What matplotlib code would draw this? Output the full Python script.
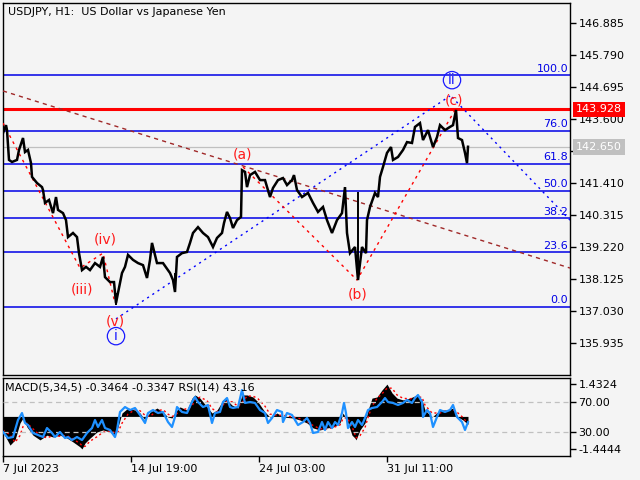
import matplotlib
matplotlib.use('Agg')
import matplotlib.pyplot as plt
import matplotlib.transforms as mtransforms

# --- price series (hourly bars, bar index from 7 Jul 2023 11:00) ---
price_bars = [0, 3, 4, 6, 9, 14, 16, 20, 22, 25, 28, 29, 34, 39, 40, 42, 46, 50, 53, 55,
              60, 63, 65, 70, 74, 76, 79, 83, 87, 92, 97, 100, 102, 107, 111, 113, 115, 119, 122, 125,
              130, 135, 140, 144, 147, 149, 154, 160, 167, 170, 172, 174, 179, 184, 187, 190, 195, 200, 205, 210,
              214, 219, 221, 224, 227, 230, 234, 238, 239, 242, 244, 247, 252, 257, 262, 267, 270, 275, 280, 284,
              289, 291, 294, 299, 305, 310, 315, 320, 324, 329, 334, 339, 342, 344, 347, 352, 355, 359, 363, 364,
              367, 372, 375, 377, 380, 384, 388, 390, 395, 400, 404, 409, 412, 417, 420, 425, 430, 434, 437, 442,
              447, 450, 453, 455, 459, 462, 464, 465]
price_close = [143.12, 143.39, 143.22, 142.20, 142.13, 142.20, 142.54, 142.95, 142.47, 142.54,
               142.09, 141.62, 141.41, 141.27, 141.17, 140.73, 140.83, 140.38, 140.93, 140.49,
               140.38, 140.14, 139.56, 139.70, 139.56, 139.01, 138.43, 138.54, 138.43, 138.67,
               138.54, 138.88, 138.19, 138.02, 138.02, 137.30, 137.65, 138.33, 138.54, 138.95,
               138.78, 138.67, 138.60, 138.16, 138.78, 139.36, 138.67, 138.67, 138.33, 138.09,
               137.68, 138.88, 139.01, 139.05, 139.36, 139.70, 139.90, 139.70, 139.56, 139.22,
               139.53, 139.70, 140.04, 140.42, 140.21, 139.87, 140.14, 140.25, 141.85, 141.79,
               141.27, 141.68, 141.79, 141.51, 141.51, 140.93, 141.24, 141.51, 141.58, 141.34,
               141.51, 141.68, 141.17, 140.93, 141.07, 140.73, 140.42, 140.59, 140.14, 139.70,
               140.14, 140.38, 141.27, 139.70, 139.01, 139.22, 138.09, 139.22, 139.01, 140.14,
               140.59, 141.07, 140.93, 141.62, 141.96, 142.44, 142.64, 142.20, 142.30, 142.54,
               142.81, 142.78, 143.33, 143.46, 142.88, 143.22, 142.64, 142.98, 143.39, 143.22,
               143.33, 143.39, 143.91, 142.95, 142.88, 142.44, 142.09, 142.65]
wick_bars = [113, 172, 355]
wick_high = [137.65, 138.33, 141.10]
wick_low = [137.24, 137.68, 138.09]

price_ticks = [146.885, 145.790, 144.695, 143.600, 142.505, 141.410,
               140.315, 139.220, 138.125, 137.030, 135.935]

# fibonacci grid
fib_low, fib_high = 137.17, 145.10
fib_levels = [0.0, 23.6, 38.2, 50.0, 61.8, 76.0, 100.0]
red_level = 143.928
last_price = 142.650

# elliott wave paths
wave1_bars = [0, 77, 100, 112]
wave1_price = [143.46, 138.50, 139.01, 137.30]
wave2_bars = [240, 354, 452]
wave2_price = [141.96, 138.09, 143.91]
blue_bars = [113, 447]
blue_price = [136.76, 144.39]
proj_bars = [449, 567]
proj_price = [144.35, 140.14]
trend_bars = [0, 567]
trend_price = [144.56, 138.50]

wave_labels = ['(iii)', '(iv)', '(v)', '(a)', '(b)', '(c)']
wave_label_bars = [79, 102, 112, 239, 355, 451]
wave_label_price = [137.75, 139.46, 136.67, 142.40, 137.58, 144.25]
circle_labels = ['i', 'ii']
circle_bars = [113, 449]
circle_price = [136.17, 144.93]

# --- indicator window ---
macd_bars = [0, 7, 12, 17, 20, 24, 30, 37, 44, 50, 57, 64, 70, 77, 79, 82, 87, 94, 100, 107,
             112, 115, 119, 125, 132, 137, 142, 147, 154, 160, 165, 169, 172, 177, 184, 189, 192, 197, 204, 209,
             214, 219, 222, 229, 235, 239, 244, 250, 255, 262, 267, 274, 280, 290, 297, 304, 310, 317, 324, 330,
             337, 340, 344, 349, 352, 353, 357, 362, 365, 369, 374, 379, 384, 389, 394, 400, 407, 414, 419, 422,
             429, 437, 444, 450, 455, 460, 465]
macd_main = [-0.69, -1.27, -1.04, -0.29, -0.07, -0.47, -0.83, -1.04, -0.83, -0.91,
             -0.83, -0.96, -1.13, -1.35, -1.44, -1.18, -0.96, -0.69, -0.60, -0.69,
             -0.83, -0.47, 0.15, 0.37, 0.28, 0.15, -0.16, 0.19, 0.37, 0.19,
             -0.03, -0.07, 0.19, 0.42, 0.28, 0.81, 0.95, 0.81, 0.42, 0.15,
             0.28, 0.64, 0.81, 0.50, 0.37, 0.95, 0.95, 0.86, 0.64, 0.19,
             -0.03, 0.15, -0.03, -0.07, -0.16, -0.29, -0.51, -0.60, -0.51, -0.47,
             -0.29, 0.15, -0.16, -0.83, -0.96, -1.04, -0.60, -0.29, 0.28, 0.81,
             0.86, 1.17, 1.43, 1.04, 0.81, 0.73, 0.81, 0.95, 0.73, 0.28,
             -0.03, 0.28, 0.28, 0.37, -0.03, -0.16, -0.35]
macd_signal = [-0.60, -0.80, -1.15, -0.85, -0.45, -0.30, -0.55, -0.85, -0.95, -0.85,
               -0.88, -0.85, -1.00, -1.20, -1.30, -1.33, -1.10, -0.90, -0.70, -0.65,
               -0.72, -0.70, -0.30, 0.10, 0.30, 0.25, 0.05, 0.00, 0.25, 0.30,
               0.10, 0.00, 0.05, 0.25, 0.35, 0.45, 0.75, 0.85, 0.70, 0.35,
               0.20, 0.40, 0.65, 0.65, 0.45, 0.60, 0.90, 0.90, 0.78, 0.45,
               0.10, 0.05, 0.05, -0.03, -0.10, -0.22, -0.40, -0.55, -0.55, -0.50,
               -0.38, -0.10, -0.05, -0.45, -0.80, -0.95, -0.85, -0.50, -0.05, 0.45,
               0.80, 1.00, 1.25, 1.25, 0.95, 0.80, 0.78, 0.85, 0.85, 0.50,
               0.15, 0.15, 0.25, 0.30, 0.15, -0.05, -0.33]
rsi_bars = [0, 5, 10, 15, 19, 22, 25, 30, 35, 40, 44, 49, 52, 57, 62, 65, 69, 74, 79, 84,
            89, 92, 95, 99, 102, 107, 112, 114, 117, 122, 127, 132, 137, 142, 145, 150, 155, 160, 165, 169,
            172, 174, 179, 184, 189, 192, 195, 200, 205, 209, 212, 217, 220, 224, 227, 230, 235, 239, 242, 247,
            252, 257, 262, 265, 269, 274, 279, 280, 284, 289, 292, 295, 300, 304, 307, 310, 315, 319, 322, 325,
            329, 332, 335, 339, 341, 343, 345, 349, 352, 355, 359, 362, 365, 369, 374, 379, 382, 385, 390, 395,
            400, 404, 409, 412, 415, 419, 420, 424, 427, 430, 434, 437, 442, 447, 450, 454, 459, 462, 465]
rsi_vals = [30.0, 22.0, 23.3, 46.0, 55.3, 42.0, 39.3, 28.7, 26.0, 23.3,
            35.3, 28.7, 23.3, 30.0, 22.0, 23.3, 19.3, 23.3, 19.3, 28.7,
            35.3, 46.0, 36.7, 46.0, 35.3, 32.7, 23.3, 32.7, 56.7, 63.3,
            59.3, 62.0, 52.7, 42.0, 55.3, 59.3, 55.3, 56.7, 43.3, 36.7,
            50.0, 63.3, 56.7, 55.3, 70.0, 76.7, 70.0, 63.3, 66.0, 42.0,
            55.3, 56.7, 70.0, 75.3, 63.3, 62.0, 63.3, 86.0, 68.7, 70.0,
            68.7, 59.3, 55.3, 42.0, 48.7, 59.3, 56.7, 43.3, 55.3, 52.7,
            46.0, 39.3, 43.3, 48.7, 42.0, 28.7, 30.0, 43.3, 32.7, 43.3,
            35.3, 43.3, 39.3, 55.3, 68.7, 55.3, 35.3, 43.3, 36.7, 46.0,
            39.3, 48.7, 59.3, 62.0, 63.3, 70.0, 75.3, 70.0, 68.7, 66.0,
            68.7, 72.7, 68.7, 75.3, 79.3, 70.0, 50.0, 59.3, 55.3, 36.7,
            50.0, 59.3, 56.7, 59.3, 66.0, 50.0, 43.3, 32.7, 43.16]
macd_ticks = [1.4324, -1.4444]
rsi_levels = [70, 30]

date_bars = [0, 128, 256, 384]
date_labels = ['7 Jul 2023', '14 Jul 19:00', '24 Jul 03:00', '31 Jul 11:00']

BG = '#f4f4f4'
FIB_BLUE = '#0000e6'

W, H = 640, 480
fig = plt.figure(figsize=(6.4, 4.8), dpi=100, facecolor=BG)


def px_rect(x0, y0, x1, y1):
    return [x0 / W, 1 - y1 / H, (x1 - x0) / W, (y1 - y0) / H]


ax = fig.add_axes(px_rect(3, 3, 570, 375))
ax.set_facecolor(BG)
ax.set_xlim(0, 567)
ax.set_ylim(134.84, 147.57)

# horizontal levels
fib_prices = [fib_low + lv / 100 * (fib_high - fib_low) for lv in fib_levels]
for lv, p in zip(fib_levels, fib_prices):
    ax.axhline(p, color=FIB_BLUE, lw=1.1, zorder=2)
    ax.text(565, p, '%.1f' % lv, ha='right', va='bottom', color=FIB_BLUE, fontsize=8,
            transform=mtransforms.offset_copy(ax.transData, fig=fig, y=1.2, units='points'))
ax.axhline(last_price, color='#c0c0c0', lw=0.9, zorder=2)
ax.axhline(red_level, color='#ff0000', lw=2.2, zorder=2)

# trend lines / waves
ax.plot(trend_bars, trend_price, color='#a02828', lw=1, ls=(0, (3, 3)), zorder=3)
ax.plot(blue_bars, blue_price, color='#0000ff', lw=1, ls=(0, (1.5, 3)), zorder=3)
ax.plot(proj_bars, proj_price, color='#0000ff', lw=1, ls=(0, (1.5, 3)), zorder=3)
ax.plot(wave1_bars, wave1_price, color='#ff0000', lw=1, ls=(0, (2, 3)), zorder=3)
ax.plot(wave2_bars, wave2_price, color='#ff0000', lw=1, ls=(0, (2, 3)), zorder=3)

# price
ax.vlines(wick_bars, wick_low, wick_high, color='black', lw=1.4, zorder=4)
ax.plot(price_bars, price_close, color='black', lw=1.8, zorder=4, solid_joinstyle='miter')

for t, b, p in zip(wave_labels, wave_label_bars, wave_label_price):
    ax.text(b, p, t, ha='center', va='center', color='#ff1a1a', fontsize=10, zorder=5)
for t, b, p in zip(circle_labels, circle_bars, circle_price):
    ax.text(b, p, t, ha='center', va='center', color='#1a1aff', fontsize=10, zorder=5,
            bbox=dict(boxstyle='circle,pad=0.12', fc='none', ec='#1a1aff', lw=0.9))

ax.yaxis.tick_right()
ax.set_yticks(price_ticks)
ax.set_yticklabels(['%.3f' % v for v in price_ticks])
ax.tick_params(axis='y', direction='out', length=4, width=1, labelsize=8, pad=2)
ax.set_xticks([])
for s in ax.spines.values():
    s.set_color('black')
    s.set_linewidth(1)

# price tags on the scale
tag_tr = mtransforms.offset_copy(mtransforms.blended_transform_factory(ax.transAxes, ax.transData),
                                 fig=fig, x=4.5, units='points')
ax.text(1.0, red_level, '%.3f' % red_level, transform=tag_tr, ha='left', va='center',
        color='white', fontsize=8, zorder=10, clip_on=False,
        bbox=dict(boxstyle='square,pad=0.25', fc='#ff0000', ec='none'))
ax.text(1.0, last_price, '%.3f' % last_price, transform=tag_tr, ha='left', va='center',
        color='white', fontsize=8, zorder=10, clip_on=False,
        bbox=dict(boxstyle='square,pad=0.25', fc='#c0c0c0', ec='none'))

fig.text(8 / W, 1 - 12 / H, 'USDJPY, H1:  US Dollar vs Japanese Yen', fontsize=8,
         va='center', ha='left', color='black')

# indicator window: MACD histogram below, RSI on top
axm = fig.add_axes(px_rect(3, 378, 570, 456))
axr = axm.twinx()
axm.set_facecolor(BG)
axm.set_xlim(0, 567)
axm.set_ylim(-1.753, 1.70)
axm.fill_between(macd_bars, 0, macd_main, color='black', lw=0)
axm.plot(macd_bars, macd_signal, color='#ff0000', lw=1, ls=(0, (1.5, 2)))
axm.yaxis.tick_right()
axm.yaxis.set_label_position('right')
axm.set_yticks(macd_ticks)
axm.set_yticklabels(['%.4f' % v for v in macd_ticks])
axm.tick_params(axis='y', which='both', left=False, labelleft=False, right=True, labelright=True,
                direction='out', length=4, width=1, labelsize=8, pad=2)
axm.set_xticks(date_bars)
axm.set_xticklabels(date_labels)
for lbl in axm.get_xticklabels():
    lbl.set_ha('left')
axm.tick_params(axis='x', direction='out', length=4, width=1, labelsize=8, pad=2)
for s in axm.spines.values():
    s.set_color('black')
    s.set_linewidth(1)

axr.set_ylim(-2, 102)
for lv in rsi_levels:
    axr.axhline(lv, color='#c0c0c0', lw=0.9, ls=(0, (4, 3)), zorder=1)
axr.plot(rsi_bars, rsi_vals, color='#1e90ff', lw=1.6, zorder=3)
axr.set_yticks(rsi_levels)
axr.set_yticklabels(['%.2f' % v for v in rsi_levels])
axr.tick_params(axis='y', direction='out', length=4, width=1, labelsize=8, pad=2)
for s in axr.spines.values():
    s.set_visible(False)

fig.text(5 / W, 1 - 388 / H, 'MACD(5,34,5) -0.3464 -0.3347 RSI(14) 43.16', fontsize=8,
         va='center', ha='left', color='black')

fig.savefig('out.png', dpi=100, facecolor=BG)
